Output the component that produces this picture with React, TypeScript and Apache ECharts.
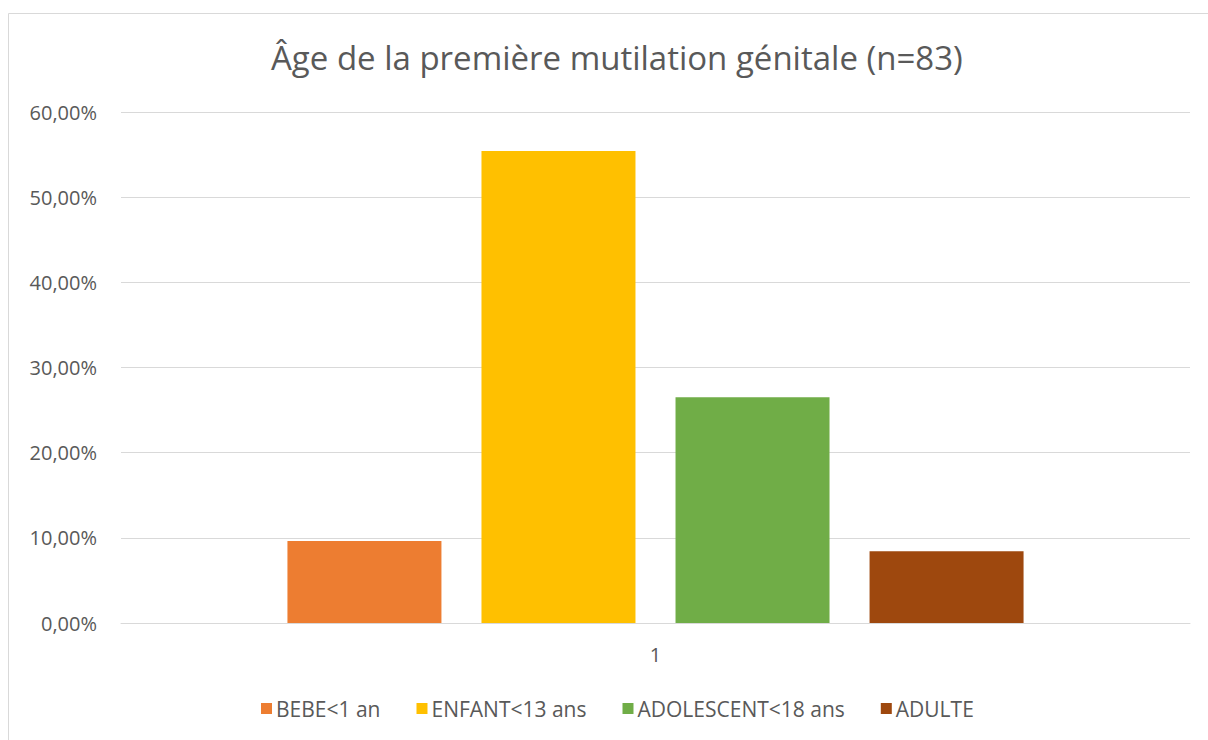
import React, { useEffect, useRef } from "react";
import * as echarts from "echarts";

const categories = ["1"];
const seriesNames = ["BEBE<1 an", "ENFANT<13 ans", "ADOLESCENT<18 ans", "ADULTE"];
const seriesValues = [9.64, 55.42, 26.51, 8.43];
const seriesColors = ["#ED7D31", "#FFC000", "#70AD47", "#9E480E"];
const yTicks = { min: 0, max: 60, interval: 10 };
const titleText = "Âge de la première mutilation génitale (n=83)";

const FONT = "'Open Sans', 'Liberation Sans', sans-serif";

export default function App() {
  const ref = useRef<HTMLDivElement>(null);
  useEffect(() => {
    if (!ref.current) return;
    const chart = echarts.init(ref.current, undefined, { renderer: "svg" });
    chart.setOption({
      animation: false,
      backgroundColor: "#ffffff",
      title: {
        text: titleText,
        left: 266,
        top: 36,
        textStyle: { fontFamily: FONT, fontSize: 33, fontWeight: "normal", color: "#595959" },
      },
      graphic: [
        {
          type: "rect",
          shape: { x: 8.5, y: 13.5, width: 1210, height: 740 },
          style: { fill: "none", stroke: "#d9d9d9", lineWidth: 1 },
          silent: true,
        },
      ],
      legend: {
        top: 693,
        left: 256,
        itemWidth: 11,
        itemHeight: 11,
        itemGap: 36,
        icon: "rect",
        textStyle: { fontFamily: FONT, fontSize: 21, color: "#595959", padding: [0, 0, 0, -1] },
        data: seriesNames,
      },
      grid: { left: 121, right: 18, top: 112, bottom: 117, containLabel: false },
      xAxis: {
        type: "category",
        data: categories,
        axisTick: { show: false },
        axisLine: { lineStyle: { color: "#d9d9d9", width: 1 } },
        axisLabel: { fontFamily: FONT, fontSize: 20, color: "#595959", margin: 21 },
      },
      yAxis: {
        type: "value",
        min: yTicks.min,
        max: yTicks.max,
        interval: yTicks.interval,
        axisLine: { show: false },
        axisTick: { show: false },
        splitLine: { lineStyle: { color: "#d9d9d9", width: 1 } },
        axisLabel: {
          fontFamily: FONT,
          fontSize: 20,
          color: "#595959",
          margin: 24,
          formatter: (v: number) => v.toFixed(2).replace(".", ",") + "%",
        },
      },
      series: seriesNames.map((name, i) => ({
        name,
        type: "bar",
        data: [seriesValues[i]],
        barWidth: 154,
        barGap: "26%",
        itemStyle: { color: seriesColors[i] },
      })),
    });
    return () => chart.dispose();
  }, []);
  return (
    <div
      ref={ref}
      style={{ position: "fixed", left: 0, top: 0, width: 1208, height: 740 }}
    />
  );
}
